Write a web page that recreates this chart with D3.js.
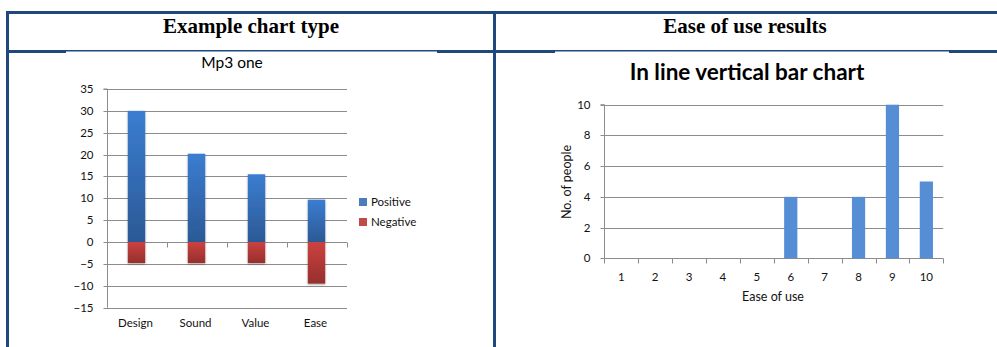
<!DOCTYPE html>
<html>
<head>
<meta charset="utf-8">
<script src="https://cdn.jsdelivr.net/npm/d3@7"></script>
<style>
  html, body { margin: 0; padding: 0; background: #fff; }
  svg { display: block; }
</style>
</head>
<body>
<svg id="page" width="997" height="347"></svg>
<script>
// ---- data ----
const headers = ["Example chart type", "Ease of use results"];

const mp3Title = "Mp3 one";
const mp3Categories = ["Design", "Sound", "Value", "Ease"];
const positiveValues = [30, 20.2, 15.5, 9.7];
const negativeValues = [-4.8, -4.8, -4.8, -9.5];
const mp3Ticks = [-15, -10, -5, 0, 5, 10, 15, 20, 25, 30, 35];
const seriesNames = ["Positive", "Negative"];

const easeTitle = "In line vertical bar chart";
const easeLevels = ["1", "2", "3", "4", "5", "6", "7", "8", "9", "10"];
const peopleCounts = [0, 0, 0, 0, 0, 4, 0, 4, 10, 5];
const easeTicks = [0, 2, 4, 6, 8, 10];
const easeXTitle = "Ease of use";
const easeYTitle = "No. of people";

// ---- styles ----
const navy = "#1F497D";
const gridColor = "#8c8c8c";
const chartFont = "Lato, 'Open Sans', sans-serif";
const labelSize = 11.5;

const svg = d3.select("#page");

// gradients for the stacked bars
const defs = svg.append("defs");
function vGrad(id, top, bottom) {
  const g = defs.append("linearGradient").attr("id", id)
    .attr("x1", 0).attr("y1", 0).attr("x2", 0).attr("y2", 1);
  g.append("stop").attr("offset", "0%").attr("stop-color", top);
  g.append("stop").attr("offset", "100%").attr("stop-color", bottom);
}
vGrad("gBlue", "#3b7dd1", "#2b5995");
vGrad("gRed", "#cc4240", "#952f2d");
const shadow = defs.append("filter").attr("id", "soft")
  .attr("x", "-30%").attr("y", "-10%").attr("width", "160%").attr("height", "120%");
shadow.append("feGaussianBlur").attr("in", "SourceAlpha").attr("stdDeviation", 1).attr("result", "b");
shadow.append("feOffset").attr("in", "b").attr("dx", 0).attr("dy", 0.5).attr("result", "o");
shadow.append("feComponentTransfer").attr("in", "o").attr("result", "s")
  .append("feFuncA").attr("type", "linear").attr("slope", 0.35);
const merge = shadow.append("feMerge");
merge.append("feMergeNode").attr("in", "s");
merge.append("feMergeNode").attr("in", "SourceGraphic");

// ---- table frame ----
const frame = svg.append("g");
frame.append("rect").attr("x", 6).attr("y", 11).attr("width", 991).attr("height", 3).attr("fill", navy);
frame.append("rect").attr("x", 6).attr("y", 50).attr("width", 991).attr("height", 3).attr("fill", navy);
frame.append("rect").attr("x", 6).attr("y", 11).attr("width", 3).attr("height", 336).attr("fill", navy);
frame.append("rect").attr("x", 493).attr("y", 11).attr("width", 3).attr("height", 336).attr("fill", navy);

// chart canvases sit slightly over the header rule
frame.append("rect").attr("x", 66).attr("y", 51.5).attr("width", 371).attr("height", 2).attr("fill", "#fff");
frame.append("rect").attr("x", 555).attr("y", 51.5).attr("width", 394).attr("height", 2).attr("fill", "#fff");

frame.selectAll("text.hdr").data(headers).join("text")
  .attr("class", "hdr")
  .attr("x", (d, i) => i === 0 ? 251 : 745)
  .attr("y", 33)
  .attr("text-anchor", "middle")
  .attr("font-family", "'Liberation Serif', 'Times New Roman', serif")
  .attr("font-weight", "bold")
  .attr("font-size", 21)
  .attr("fill", "#000")
  .text(d => d);

// ---- left chart: stacked positive / negative ----
(function () {
  const left = 107, right = 347, top = 89, bottom = 307.7;
  const g = svg.append("g");
  const x = d3.scaleBand().domain(mp3Categories).range([left, right]).padding(0);
  const y = d3.scaleLinear().domain([-15, 35]).range([bottom, top]);

  g.append("text").attr("x", 232).attr("y", 68).attr("text-anchor", "middle")
    .attr("font-family", chartFont).attr("font-size", 15.5).attr("fill", "#000").text(mp3Title);

  // gridlines
  g.selectAll("line.grid").data(mp3Ticks).join("line")
    .attr("x1", left).attr("x2", right)
    .attr("y1", d => Math.round(y(d)) + 0.5).attr("y2", d => Math.round(y(d)) + 0.5)
    .attr("stroke", gridColor).attr("stroke-width", 1);

  // value axis
  const yAxis = g.append("g").attr("transform", `translate(${left + 0.5},0)`)
    .call(d3.axisLeft(y).tickValues(mp3Ticks).tickSize(4).tickPadding(10));
  yAxis.select(".domain").attr("stroke", gridColor).attr("d", `M-4,${top}H0V${bottom}`);
  yAxis.selectAll(".tick line").attr("stroke", gridColor);
  yAxis.selectAll(".tick text").attr("font-family", chartFont).attr("font-size", labelSize).attr("fill", "#111");
  yAxis.selectAll(".tick").attr("transform", d => `translate(0,${Math.round(y(d)) + 0.5})`);

  // category axis on the zero line
  const y0 = Math.round(y(0)) + 0.5;
  const bounds = mp3Categories.map(c => x(c)).concat([right]);
  g.selectAll("line.ctick").data(bounds).join("line")
    .attr("x1", d => Math.round(d) + 0.5).attr("x2", d => Math.round(d) + 0.5)
    .attr("y1", y0).attr("y2", y0 + 5)
    .attr("stroke", gridColor);

  g.selectAll("text.cat").data(mp3Categories).join("text")
    .attr("x", d => x(d) + x.bandwidth() / 2 - 1.5)
    .attr("y", 327)
    .attr("text-anchor", "middle")
    .attr("font-family", chartFont).attr("font-size", labelSize).attr("fill", "#111")
    .text(d => d);

  const barW = x.bandwidth() * 0.29;
  const bars = g.append("g").attr("filter", "url(#soft)");
  bars.selectAll("rect.pos").data(mp3Categories).join("rect")
    .attr("x", d => x(d) + x.bandwidth() / 2 - barW / 2 - 0.5)
    .attr("width", barW)
    .attr("y", (d, i) => y(positiveValues[i]))
    .attr("height", (d, i) => y(0) - y(positiveValues[i]))
    .attr("fill", "url(#gBlue)");
  bars.selectAll("rect.neg").data(mp3Categories).join("rect")
    .attr("x", d => x(d) + x.bandwidth() / 2 - barW / 2 - 0.5)
    .attr("width", barW)
    .attr("y", y(0))
    .attr("height", (d, i) => y(negativeValues[i]) - y(0))
    .attr("fill", "url(#gRed)");

  // legend
  const legend = g.selectAll("g.leg").data(seriesNames).join("g")
    .attr("transform", (d, i) => `translate(359,${198 + i * 20})`);
  legend.append("rect").attr("width", 8).attr("height", 8)
    .attr("fill", (d, i) => i === 0 ? "#4a7ebb" : "#be4b48");
  legend.append("text").attr("x", 12).attr("y", 8)
    .attr("font-family", chartFont).attr("font-size", labelSize).attr("fill", "#111")
    .text(d => d);
})();

// ---- right chart: ease of use counts ----
(function () {
  const left = 604.3, right = 943.3, top = 104.7, bottom = 258.3;
  const g = svg.append("g");
  const x = d3.scaleBand().domain(easeLevels).range([left, right]).padding(0);
  const y = d3.scaleLinear().domain([0, 10]).range([bottom, top]);

  g.append("text").attr("x", 747).attr("y", 80).attr("text-anchor", "middle")
    .attr("font-family", chartFont).attr("font-weight", "bold").attr("font-size", 22.5)
    .attr("fill", "#000").text(easeTitle);

  g.selectAll("line.grid").data(easeTicks.filter(d => d > 0)).join("line")
    .attr("x1", left).attr("x2", right)
    .attr("y1", d => Math.round(y(d)) + 0.5).attr("y2", d => Math.round(y(d)) + 0.5)
    .attr("stroke", gridColor).attr("stroke-width", 1);

  const yAxis = g.append("g").attr("transform", `translate(${Math.round(left) + 0.5},0)`)
    .call(d3.axisLeft(y).tickValues(easeTicks).tickSize(4).tickPadding(10));
  yAxis.select(".domain").attr("stroke", gridColor).attr("d", `M-4,${top}H0V${bottom}`);
  yAxis.selectAll(".tick line").attr("stroke", gridColor);
  yAxis.selectAll(".tick text").attr("font-family", chartFont).attr("font-size", labelSize).attr("fill", "#111");
  yAxis.selectAll(".tick").attr("transform", d => `translate(0,${Math.round(y(d)) + 0.5})`);

  const xAxis = g.append("g").attr("transform", `translate(0,${Math.round(bottom) + 0.5})`)
    .call(d3.axisBottom(x).tickSize(0).tickPadding(14));
  xAxis.select(".domain").attr("stroke", gridColor).attr("d", `M${left},0H${right}`);
  xAxis.selectAll(".tick text").attr("font-family", chartFont).attr("font-size", labelSize).attr("fill", "#111");
  const bounds = easeLevels.map(c => x(c)).concat([right]);
  g.selectAll("line.ctick").data(bounds).join("line")
    .attr("x1", d => Math.round(d) + 0.5).attr("x2", d => Math.round(d) + 0.5)
    .attr("y1", Math.round(bottom) + 0.5).attr("y2", Math.round(bottom) + 5.5)
    .attr("stroke", gridColor);

  const barW = x.bandwidth() * 0.39;
  g.selectAll("rect.bar").data(easeLevels).join("rect")
    .attr("x", d => x(d) + x.bandwidth() / 2 - barW / 2)
    .attr("width", barW)
    .attr("y", (d, i) => y(peopleCounts[i]))
    .attr("height", (d, i) => y(0) - y(peopleCounts[i]))
    .attr("fill", "#558ed5");

  g.append("text").attr("x", 773).attr("y", 301).attr("text-anchor", "middle")
    .attr("font-family", chartFont).attr("font-size", 12.5).attr("fill", "#111").text(easeXTitle);
  g.append("text").attr("transform", "translate(571,182) rotate(-90)")
    .attr("text-anchor", "middle")
    .attr("font-family", chartFont).attr("font-size", 12.5).attr("fill", "#111").text(easeYTitle);
})();
</script>
</body>
</html>
